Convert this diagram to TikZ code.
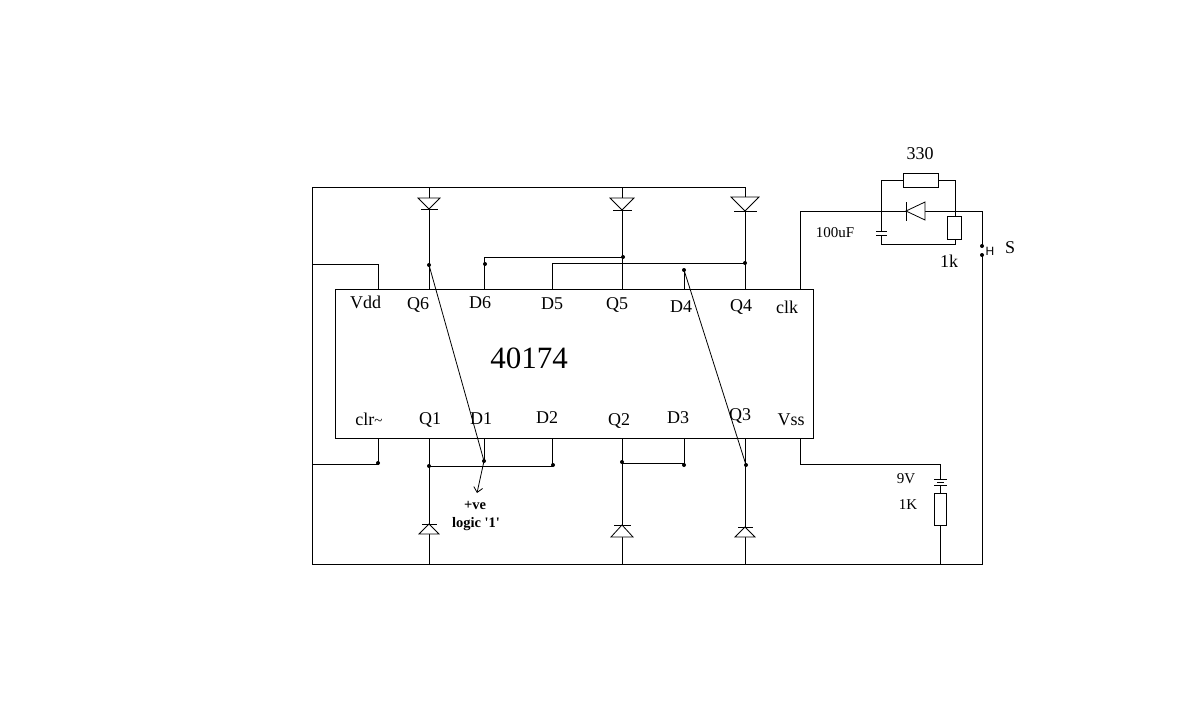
\documentclass[tikz,border=0pt]{standalone}
\usepackage{fontspec}
\setmainfont{Liberation Serif}
\newfontfamily\hfont{Liberation Sans}
\newfontfamily\plainserif{Liberation Serif}
\usetikzlibrary{arrows.meta}
\tikzset{
  x=1pt,y=-1pt,
  wire/.style={line width=1pt,black,line cap=rect},
  lbl/.style={inner sep=0pt,font=\fontsize{18}{20}\selectfont},
  small lbl/.style={inner sep=0pt,font=\fontsize{15}{17}\selectfont},
  bold lbl/.style={inner sep=0pt,font=\fontsize{14.5}{16}\selectfont\bfseries},
  chip/.style={draw,line width=1pt,fill=white,minimum width=478pt,minimum height=149pt,inner sep=0pt},
  res/.style={draw,line width=1pt,fill=white,inner sep=0pt},
  jdot/.style={circle,fill=black,inner sep=0pt,minimum size=4pt},
  pointer/.style={line width=0.8pt,black},
  diode shape/.style={line width=0.8pt,fill=white,line join=miter}
}
\newcommand{\diodedown}[4]{% x, y top, half width, height
  \draw[diode shape] (#1-#3,#2) -- (#1+#3,#2) -- (#1,#2+#4) -- cycle;
  \draw[wire] (#1-#3+3,#2+#4) -- (#1+#3-3,#2+#4);
}
\newcommand{\diodeup}[4]{% x, y bottom, half width, height
  \draw[diode shape] (#1-#3,#2) -- (#1+#3,#2) -- (#1,#2-#4) -- cycle;
  \draw[wire] (#1-#3+3,#2-#4) -- (#1+#3-3,#2-#4);
}
\begin{document}
\begin{tikzpicture}
\useasboundingbox[fill=white] (0,0) rectangle (1180,707);

% chip
\node[chip] (ic) at (574,363.5) {};
\node[inner sep=0pt,font=\fontsize{31}{33}\selectfont] (name) at (529,358) {40174};

% pin coordinates on the chip
\coordinate (vdd) at (378,289);
\coordinate (q6) at (429,289);
\coordinate (d6) at (484,289);
\coordinate (d5) at (552,289);
\coordinate (q5) at (622,289);
\coordinate (d4) at (684,289);
\coordinate (q4) at (745,289);
\coordinate (clk) at (800,289);
\coordinate (clr) at (378,438);
\coordinate (q1) at (429,438);
\coordinate (d1) at (484,438);
\coordinate (d2) at (552,438);
\coordinate (q2) at (622,438);
\coordinate (d3) at (684,438);
\coordinate (q3) at (745,438);
\coordinate (vss) at (800,438);

% outer rails
\coordinate (tl) at (312,187);
\coordinate (tr) at (745,187);
\coordinate (bl) at (312,564);
\coordinate (br) at (982,564);
\draw[wire] (tr) -- (tl) -- (bl) -- (br) -- (982,255);
\draw[wire] (312,264) -- (378,264) -- (vdd);
\draw[wire] (312,464) -- (378,464) -- (clr);

% top diodes and wires
\draw[wire] (429,187) -- (q6);
\draw[wire] (622,187) -- (q5);
\draw[wire] (tr) -- (q4);
\diodedown{429}{198}{11}{11}
\diodedown{622}{198}{12}{12}
\diodedown{745}{197}{14}{14}

% top connections
\draw[wire] (d6) -- (484,257) -- (622,257);
\draw[wire] (d5) -- (552,263) -- (745,263);
\draw[wire] (d4) -- (684,270);
\node[jdot] (dq6) at (429,265) {};
\node[jdot] (dd6) at (485,264) {};
\node[jdot] (dq5) at (623,257) {};
\node[jdot] (dq4) at (745,263) {};
\node[jdot] (dd4) at (684,270) {};

% bottom diodes and wires
\draw[wire] (q1) -- (429,564);
\draw[wire] (q2) -- (622,564);
\draw[wire] (q3) -- (745,564);
\diodeup{429}{534}{10}{10}
\diodeup{622}{537}{11}{12}
\diodeup{745}{537}{10}{10}

% bottom connections
\draw[wire] (429,466) -- (552,466) -- (d2);
\draw[wire] (d1) -- (484,461);
\draw[wire] (622,463) -- (684,463) -- (d3);
\node[jdot] (dq1) at (429,466) {};
\node[jdot] (dd1) at (484,461) {};
\node[jdot] (dd2) at (553,465) {};
\node[jdot] (dq2) at (622,462) {};
\node[jdot] (dd3) at (684,465) {};
\node[jdot] (dq3) at (746,465) {};
\node[jdot] (dclr) at (378,463) {};

% diagonal links
\coordinate (arrowend) at (477,493);
\draw[pointer] (dq6.center) -- (dd1.center);
\draw[pointer,-{Straight Barb[length=5pt,width=9pt,line width=0.8pt]}] (dd1.center) -- (arrowend);
\draw[pointer] (dd4.center) -- (dq3.center);

% clock network
\draw[wire] (clk) -- (800,211) -- (906,211);
\draw[wire] (925,211) -- (982,211) -- (982,246);
\draw[diode shape] (925,202) -- (925,220) -- (906,211) -- cycle;
\draw[wire] (906,202) -- (906,220);
\draw[wire] (881,231) -- (881,180) -- (903,180);
\draw[wire] (881,235) -- (881,244) -- (955,244) -- (955,239);
\draw[wire] (955,216) -- (955,180) -- (938,180);
\draw[wire] (876,231) -- (886,231);
\draw[wire] (876,235) -- (886,235);
\node[res,minimum width=35pt,minimum height=14pt] (r330) at (920.5,180) {};
\node[res,minimum width=14pt,minimum height=23pt] (r1k) at (954,227.5) {};
\node[jdot] (s1) at (982,246) {};
\node[jdot] (s2) at (982,255) {};

% supply
\draw[wire] (vss) -- (800,464) -- (940,464) -- (940,479);
\draw[wire] (934,479) -- (946,479);
\draw[wire] (937,482) -- (943,482);
\draw[wire] (934,485) -- (946,485);
\draw[wire] (940,485) -- (940,493);
\draw[wire] (940,525) -- (940,564);
\node[res,minimum width=12pt,minimum height=32pt] (r1kb) at (940,509) {};

% labels
\node[lbl] at (365.5,302) {Vdd};
\node[lbl] at (418,305) {Q6};
\node[lbl] at (480,303) {D6};
\node[lbl] at (552,304) {D5};
\node[lbl] at (617,305) {Q5};
\node[lbl] at (681,307) {D4};
\node[lbl] at (741,307) {Q4};
\node[lbl] at (787,307) {clk};
\node[lbl] at (369,419) {clr{\fontsize{15}{15}\selectfont\textasciitilde}};
\node[lbl] at (430,420) {Q1};
\node[lbl] at (481,419) {D1};
\node[lbl] at (547,418) {D2};
\node[lbl] at (619,421) {Q2};
\node[lbl] at (678,418) {D3};
\node[lbl] at (740,416) {Q3};
\node[lbl] at (791,420) {Vss};
\node[bold lbl] at (475,505) {+ve};
\node[bold lbl] at (476,524) {\plainserif\bfseries logic '1'};
\node[lbl] at (920,154) {330};
\node[small lbl] at (835,233) {100uF};
\node[lbl] at (949,261) {1k};
\node[inner sep=0pt,font=\hfont\fontsize{12}{14}\selectfont] at (990,251) {H};
\node[lbl] at (1010,248) {S};
\node[small lbl] at (906,479) {9V};
\node[small lbl] at (908,505) {1K};
\end{tikzpicture}
\end{document}
